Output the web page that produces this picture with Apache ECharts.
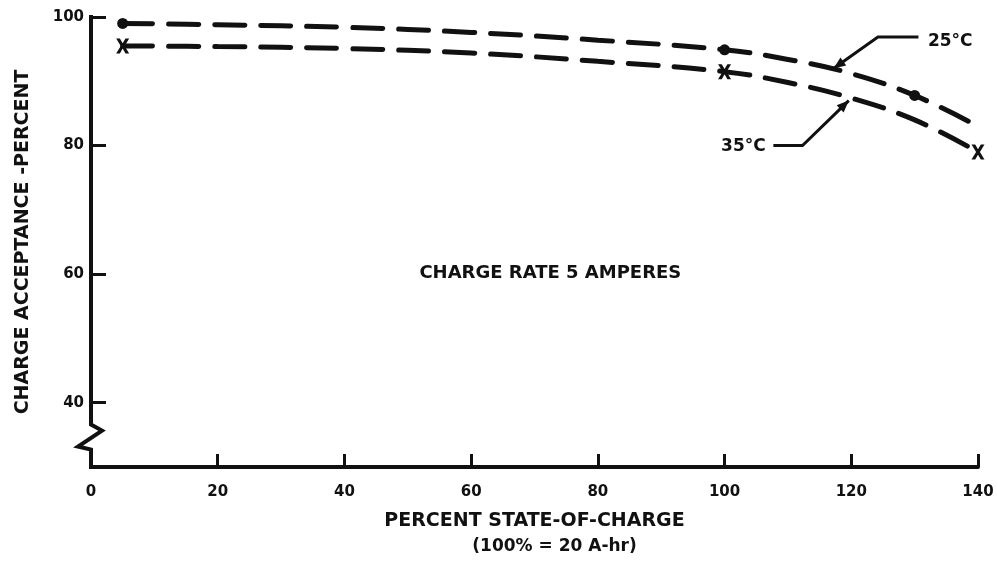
<!DOCTYPE html>
<html><head><meta charset="utf-8">
<script src="https://cdn.jsdelivr.net/npm/echarts@6/dist/echarts.min.js"></script>
<style>html,body{margin:0;padding:0;background:#fff}#c{width:997px;height:587px}</style>
</head><body><div id="c"></div>
<script>
// ---- data ----
const stateOfCharge = [5, 20, 40, 60, 80, 100, 110, 120, 130, 140];
const accept25C = [99, 98.8, 98.4, 97.6, 96.4, 94.9, 93.4, 91.2, 87.8, 83];
const accept35C = [95.5, 95.4, 95.1, 94.4, 93.1, 91.5, 89.8, 87.4, 84, 79];
const dots25X = [5, 100, 130];
const dots25Y = [99, 94.9, 87.8];
const marks35X = [5, 100, 140];
const marks35Y = [95.5, 91.5, 79];
const xTicks = [0, 20, 40, 60, 80, 100, 120, 140];
const yTicks = [40, 60, 80, 100];
const xName1 = 'PERCENT STATE-OF-CHARGE';
const xName2 = '(100% = 20 A-hr)';
const yName = 'CHARGE ACCEPTANCE -PERCENT';
const note = 'CHARGE RATE 5 AMPERES';
const label25 = '25°C';
const label35 = '35°C';

const INK = '#111';
const FONT = 'DejaVu Sans';
const chart = echarts.init(document.getElementById('c'), null, {renderer: 'canvas'});

const zip = (xs, ys) => xs.map((x, i) => [x, ys[i]]);
const dash = {color: INK, width: 5, type: [30, 16], cap: 'round'};

chart.setOption({
  animation: false,
  backgroundColor: '#fff',
  grid: {left: 91, right: 19, top: 17, bottom: 120},
  xAxis: {
    type: 'value', min: 0, max: 140, interval: 20,
    axisLine: {lineStyle: {color: INK, width: 4}},
    axisTick: {inside: true, length: 13, customValues: xTicks, lineStyle: {color: INK, width: 3}},
    axisLabel: {customValues: xTicks, margin: 18, color: INK, fontFamily: FONT, fontWeight: 'bold', fontSize: 15, showMaxLabel: true},
    splitLine: {show: false},
    name: xName1 + '\n{b|' + xName2 + '}',
    nameLocation: 'middle', nameGap: 42,
    nameTextStyle: {color: INK, fontFamily: FONT, fontWeight: 'bold', fontSize: 19, lineHeight: 25,
      rich: {b: {color: INK, fontFamily: FONT, fontWeight: 'bold', fontSize: 17, lineHeight: 25, padding: [0, 0, 0, 40]}}}
  },
  yAxis: {
    type: 'value', min: 30, max: 100,
    axisLine: {show: false},
    axisTick: {inside: true, length: 15, customValues: yTicks, lineStyle: {color: INK, width: 3}},
    axisLabel: {customValues: yTicks, margin: 7, color: INK, fontFamily: FONT, fontWeight: 'bold', fontSize: 15},
    splitLine: {show: false},
    name: yName, nameLocation: 'middle', nameGap: 58, nameRotate: 90,
    nameTextStyle: {color: INK, fontFamily: FONT, fontWeight: 'bold', fontSize: 19}
  },
  series: [
    {type: 'line', data: zip(stateOfCharge, accept25C), smooth: 0.4, symbol: 'none', lineStyle: dash, z: 2},
    {type: 'line', data: zip(stateOfCharge, accept35C), smooth: 0.4, symbol: 'none', lineStyle: dash, z: 2},
    {type: 'scatter', data: zip(dots25X, dots25Y), symbol: 'circle', symbolSize: 11, itemStyle: {color: INK, opacity: 1}, z: 3},
    {type: 'scatter', data: zip(marks35X, marks35Y),
      symbol: 'path://M0,0 L3.4,0 L6,4.2 L8.6,0 L12,0 L7.8,6.5 L12,13 L8.6,13 L6,8.8 L3.4,13 L0,13 L4.2,6.5 Z',
      symbolSize: [13, 15], itemStyle: {color: INK, opacity: 1}, z: 3}
  ]
});

// ---- decorations positioned through the chart's own coordinate system ----
const P = (x, y) => chart.convertToPixel({gridIndex: 0}, [x, y]);
function arrowHead(tip, from, len, half) {
  const dx = tip[0] - from[0], dy = tip[1] - from[1];
  const L = Math.hypot(dx, dy), ux = dx / L, uy = dy / L;
  const bx = tip[0] - ux * len, by = tip[1] - uy * len;
  return [tip, [bx - uy * half, by + ux * half], [bx + uy * half, by - ux * half]];
}
const leaderStyle = {stroke: INK, lineWidth: 3, fill: null};
const txt = (pt, text, size, align) => ({
  type: 'text', x: pt[0], y: pt[1], z: 10,
  style: {text: text, font: 'bold ' + size + 'px "' + FONT + '"', fill: INK,
    align: align, verticalAlign: 'middle', textAlign: align, textVerticalAlign: 'middle'}
});

const axTop = P(0, 100), axBot = P(0, 30);
const ax0 = axTop[0];
const zy = P(0, 36.6)[1];
const axisPts = [[ax0, axTop[1] - 2], [ax0, zy], [ax0 + 11, zy + 6], [ax0 - 13, zy + 22], [ax0, zy + 25], [ax0, axBot[1] + 2]];

// 25°C leader
const t25 = P(117.2, 92.0), e25 = P(124.2, 96.9), s25 = P(130.6, 96.9);
// 35°C leader
const t35 = P(119.6, 87.0), e35 = P(112.3, 80.0), s35 = P(107.7, 80.0);

chart.setOption({
  graphic: [
    {type: 'polyline', shape: {points: axisPts}, style: {stroke: INK, lineWidth: 4, fill: null, lineJoin: 'miter'}, z: 10},
    {type: 'polyline', shape: {points: [s25, e25, t25]}, style: leaderStyle, z: 10},
    {type: 'polygon', shape: {points: arrowHead(t25, e25, 12, 5)}, style: {fill: INK}, z: 10},
    {type: 'polyline', shape: {points: [s35, e35, t35]}, style: leaderStyle, z: 10},
    {type: 'polygon', shape: {points: arrowHead(t35, e35, 12, 5)}, style: {fill: INK}, z: 10},
    txt(P(132.1, 96.1), label25, 17, 'left'),
    txt(P(106.5, 79.8), label35, 17, 'right'),
    txt(P(72.5, 60.2), note, 18, 'center')
  ]
});
</script>
</body></html>
